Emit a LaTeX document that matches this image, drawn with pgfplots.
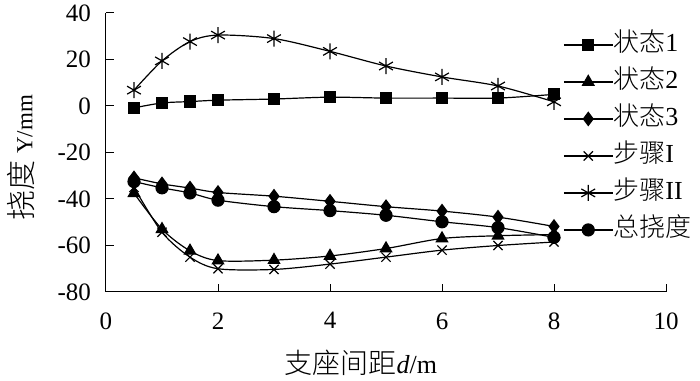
\documentclass[border=0pt]{standalone}
\usepackage{fontspec}
\usepackage{pgfplots}
\pgfplotsset{compat=1.18}
\setmainfont{Liberation Serif}
\newfontfamily\cjk{Noto Sans CJK SC Light}
\begin{document}
\fontsize{25}{29}\selectfont
\begin{tikzpicture}
\begin{axis}[
  name=main,
  scale only axis,
  width=560pt, height=279pt,
  xmin=0, xmax=10, ymin=-80, ymax=40,
  xtick={0,2,4,6,8,10}, ytick={-80,-60,-40,-20,0,20,40},
  xticklabels={0,2,4,6,8,10},
  yticklabels={-80,-60,-40,-20,0,20,40},
  axis lines=left,
  axis line style={-, line width=1pt},
  tick align=inside,
  major tick length=8pt,
  tick style={line width=1pt, black},
  ticklabel style={font=\fontsize{25}{29}\selectfont},
  yticklabel style={xshift=-6.5pt},
  xticklabel style={yshift=-12pt},
  xlabel={{\fontsize{28}{33}\selectfont\cjk 支座间距}\fontsize{26}{30}\selectfont\textit{d}/m},
  ylabel={{\fontsize{30}{34}\selectfont\cjk 挠度} \fontsize{23}{26}\selectfont Y/mm},
  every axis x label/.style={at={(axis description cs:0.455,-0.254)}, anchor=center},
  every axis y label/.style={at={(axis description cs:-0.152,0.482)}, anchor=center, rotate=90},
  label style={font=\fontsize{25}{29}\selectfont},
  legend style={at={(0.816,0.554)}, anchor=west, draw=none, fill=none, inner sep=0pt,
    font=\fontsize{26}{30}\selectfont, row sep=12pt,
    nodes={inner sep=0pt, text height=19pt, text depth=6pt},
    /tikz/every even column/.append style={column sep=3pt}},
  legend image code/.code={\draw[mark repeat=2,mark phase=2] plot coordinates {(0pt,0pt) (24.5pt,0pt) (49pt,0pt)};},
  legend cell align=left,
  every axis plot/.append style={black, line width=1.2pt, smooth},
]
\addplot[mark=square*, mark size=5.5pt] coordinates {(0.5,-0.8) (1,1.3) (1.5,1.9) (2,2.5) (3,3) (4,3.8) (5,3.4) (6,3.4) (7,3.4) (8,5)};
\addlegendentry{{\cjk 状态}1}
\addplot[mark=triangle*, mark size=6.5pt] coordinates {(0.5,-37.5) (1,-53) (1.5,-62.3) (2,-66.5) (3,-66.3) (4,-64.5) (5,-61.3) (6,-57) (7,-55.8) (8,-55.3)};
\addlegendentry{{\cjk 状态}2}
\addplot[mark=diamond*, mark size=6.5pt] coordinates {(0.5,-30.9) (1,-33.5) (1.5,-35.3) (2,-37.2) (3,-38.8) (4,-41) (5,-43.3) (6,-45.2) (7,-47.8) (8,-51.8)};
\addlegendentry{{\cjk 状态}3}
\addplot[mark=x, mark size=6.5pt] coordinates {(0.5,-35) (1,-54.3) (1.5,-65) (2,-70) (3,-70.3) (4,-68) (5,-65) (6,-62) (7,-60) (8,-58.5)};
\addlegendentry{{\cjk 步骤}I}
\addplot[mark=asterisk, mark size=8pt] coordinates {(0.5,6.8) (1,19.4) (1.5,27.7) (2,30.5) (3,29) (4,23.5) (5,17.2) (6,12.5) (7,8.6) (8,1.8)};
\addlegendentry{{\cjk 步骤}II}
\addplot[mark=*, mark size=6pt] coordinates {(0.5,-32.5) (1,-35.2) (1.5,-37.4) (2,-40.5) (3,-43.3) (4,-45) (5,-47) (6,-49.8) (7,-52.3) (8,-56.5)};
\addlegendentry{{\cjk 总挠度}}
\end{axis}
\pgfresetboundingbox
\useasboundingbox ([xshift=-106pt, yshift=-89pt]main.south west) rectangle ([xshift=34pt, yshift=13pt]main.north east);
\end{tikzpicture}
\end{document}
